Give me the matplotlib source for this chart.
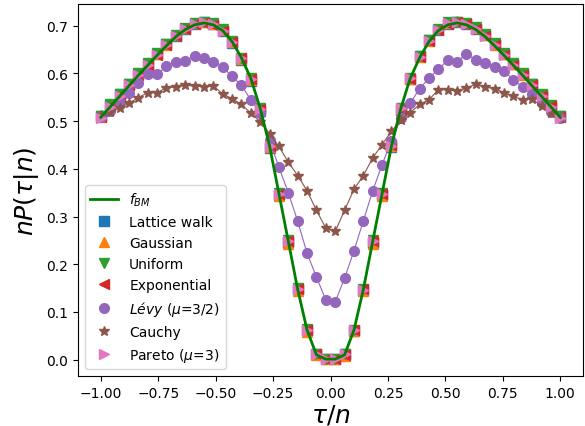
import matplotlib
matplotlib.use("Agg")
import matplotlib.pyplot as plt
import numpy as np

# --- data ---
N = 49
TAU = list(range(-49, 50, 2))  # tau values, step 2

F_BM = [0.508, 0.530, 0.552, 0.574, 0.596, 0.617, 0.638, 0.658, 0.677, 0.692, 0.702, 0.706, 0.702,
        0.690, 0.667, 0.633, 0.590, 0.527, 0.448, 0.348, 0.248, 0.147, 0.062, 0.010, 0.001,
        0.001, 0.010, 0.062, 0.147, 0.248, 0.348, 0.448, 0.527, 0.590, 0.633, 0.667, 0.690, 0.702,
        0.706, 0.702, 0.692, 0.677, 0.658, 0.638, 0.617, 0.596, 0.574, 0.552, 0.530, 0.508]

LATTICE = [0.510, 0.534, 0.556, 0.577, 0.599, 0.620, 0.640, 0.661, 0.679, 0.694, 0.704, 0.707, 0.703,
           0.689, 0.664, 0.629, 0.585, 0.522, 0.444, 0.345, 0.247, 0.148, 0.063, 0.011, 0.002,
           0.002, 0.011, 0.061, 0.146, 0.245, 0.346, 0.445, 0.524, 0.588, 0.636, 0.670, 0.692, 0.704,
           0.708, 0.703, 0.694, 0.680, 0.661, 0.640, 0.619, 0.598, 0.577, 0.554, 0.532, 0.511]

GAUSSIAN = [0.509, 0.532, 0.553, 0.576, 0.597, 0.619, 0.641, 0.660, 0.680, 0.695, 0.705, 0.709, 0.704,
            0.691, 0.666, 0.631, 0.587, 0.524, 0.446, 0.343, 0.243, 0.143, 0.058, 0.009, 0.001,
            0.001, 0.008, 0.059, 0.143, 0.243, 0.344, 0.447, 0.525, 0.588, 0.634, 0.668, 0.693, 0.706,
            0.710, 0.705, 0.696, 0.681, 0.660, 0.641, 0.620, 0.597, 0.575, 0.553, 0.531, 0.509]

UNIFORM = [0.511, 0.535, 0.557, 0.578, 0.600, 0.621, 0.642, 0.662, 0.681, 0.696, 0.706, 0.708, 0.705,
           0.693, 0.668, 0.633, 0.590, 0.527, 0.449, 0.349, 0.251, 0.150, 0.064, 0.012, 0.002,
           0.002, 0.012, 0.063, 0.149, 0.250, 0.350, 0.450, 0.528, 0.591, 0.637, 0.671, 0.694, 0.707,
           0.709, 0.706, 0.697, 0.682, 0.663, 0.643, 0.621, 0.600, 0.578, 0.556, 0.534, 0.511]

EXPONENTIAL = [0.508, 0.531, 0.554, 0.575, 0.597, 0.618, 0.639, 0.659, 0.678, 0.693, 0.703, 0.706, 0.702,
               0.690, 0.667, 0.632, 0.588, 0.526, 0.448, 0.347, 0.249, 0.149, 0.063, 0.011, 0.002,
               0.002, 0.010, 0.062, 0.148, 0.249, 0.348, 0.449, 0.526, 0.589, 0.635, 0.669, 0.692, 0.704,
               0.707, 0.703, 0.693, 0.678, 0.659, 0.639, 0.618, 0.597, 0.575, 0.553, 0.531, 0.508]

LEVY = [0.508, 0.522, 0.540, 0.560, 0.581, 0.598, 0.598, 0.616, 0.625, 0.627, 0.636, 0.632, 0.625,
        0.613, 0.594, 0.575, 0.545, 0.517, 0.460, 0.403, 0.350, 0.290, 0.223, 0.173, 0.125,
        0.121, 0.171, 0.228, 0.291, 0.354, 0.409, 0.459, 0.506, 0.538, 0.568, 0.590, 0.609, 0.628,
        0.625, 0.641, 0.628, 0.623, 0.613, 0.606, 0.586, 0.572, 0.556, 0.538, 0.520, 0.507]

CAUCHY = [0.513, 0.520, 0.527, 0.538, 0.549, 0.560, 0.560, 0.570, 0.572, 0.575, 0.574, 0.572, 0.574,
          0.557, 0.547, 0.535, 0.517, 0.499, 0.474, 0.447, 0.414, 0.386, 0.354, 0.313, 0.276,
          0.269, 0.313, 0.357, 0.386, 0.423, 0.451, 0.479, 0.503, 0.518, 0.535, 0.545, 0.566, 0.566,
          0.563, 0.570, 0.577, 0.572, 0.568, 0.560, 0.552, 0.545, 0.547, 0.531, 0.517, 0.506]

PARETO = [0.507, 0.530, 0.553, 0.575, 0.596, 0.618, 0.639, 0.659, 0.678, 0.693, 0.703, 0.707, 0.703,
          0.690, 0.666, 0.632, 0.589, 0.526, 0.448, 0.348, 0.249, 0.148, 0.063, 0.011, 0.001,
          0.001, 0.011, 0.062, 0.147, 0.248, 0.348, 0.448, 0.527, 0.590, 0.635, 0.668, 0.692, 0.705,
          0.708, 0.704, 0.694, 0.679, 0.659, 0.639, 0.618, 0.597, 0.575, 0.553, 0.530, 0.507]

x = np.array(TAU) / N

fig = plt.figure(figsize=(5.85, 4.27), dpi=100)
ax = fig.add_axes([0.133, 0.117, 0.864, 0.871])

ms = 7
h_lat, = ax.plot(x, LATTICE, 's', color='C0', ms=ms, label='Lattice walk')
h_gau, = ax.plot(x, GAUSSIAN, '^', color='C1', ms=ms, label='Gaussian')
h_uni, = ax.plot(x, UNIFORM, 'v', color='C2', ms=ms, label='Uniform')
h_exp, = ax.plot(x, EXPONENTIAL, '<', color='C3', ms=ms, label='Exponential')
ax.plot(x, LEVY, '-', color='C4', lw=0.8)
h_lev, = ax.plot(x, LEVY, 'o', color='C4', ms=ms, label=r'$Lévy$ ($\mu$=3/2)')
ax.plot(x, CAUCHY, '-', color='C5', lw=0.8)
h_cau, = ax.plot(x, CAUCHY, '*', color='C5', ms=ms, label='Cauchy')
h_par, = ax.plot(x, PARETO, '>', color='C6', ms=ms, label=r'Pareto ($\mu$=3)')
h_bm, = ax.plot(x, F_BM, '-', color='green', lw=2, label=r'$f_{BM}$', zorder=5)

ax.legend(handles=[h_bm, h_lat, h_gau, h_uni, h_exp, h_lev, h_cau, h_par], loc='lower left')

ax.set_xticks([-1.0, -0.75, -0.5, -0.25, 0.0, 0.25, 0.5, 0.75, 1.0])
ax.set_xlabel(r'$\tau/n$', fontsize=18, labelpad=2)
ax.set_ylabel(r'$nP(\tau|n)$', fontsize=18)

fig.savefig('out.png', dpi=100)
